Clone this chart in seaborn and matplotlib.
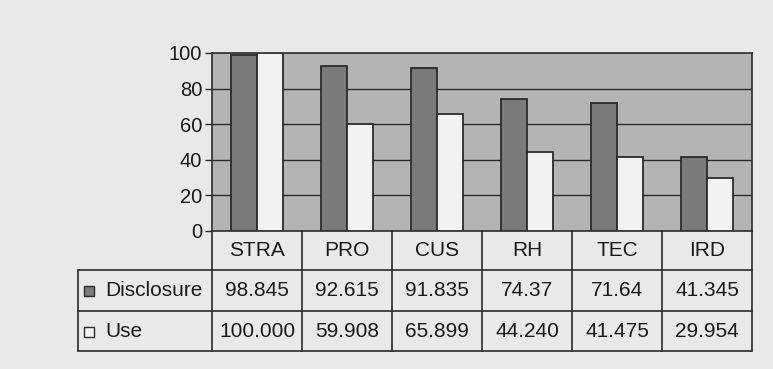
import numpy as np
import pandas as pd
import matplotlib
matplotlib.use("Agg")
import matplotlib.pyplot as plt
import seaborn as sns
from matplotlib.patches import Rectangle

categories = ["STRA", "PRO", "CUS", "RH", "TEC", "IRD"]
disclosure = [98.845, 92.615, 91.835, 74.37, 71.64, 41.345]
use = [100.000, 59.908, 65.899, 44.240, 41.475, 29.954]
disclosure_labels = ["98.845", "92.615", "91.835", "74.37", "71.64", "41.345"]
use_labels = ["100.000", "59.908", "65.899", "44.240", "41.475", "29.954"]
series = ["Disclosure", "Use"]
yticks = [0, 20, 40, 60, 80, 100]

sns.set_theme(style="white")
plt.rcParams["font.family"] = ["Liberation Sans", "DejaVu Sans"]

BG = "#e9e9e9"
PLOT_BG = "#b4b4b4"
DARK = "#7a7a7a"
LIGHT = "#f2f2f2"
LINE = "#2b2b2b"
TXT = "#1a1a1a"
FS = 15

df = pd.DataFrame({
    "cat": categories * 2,
    "val": disclosure + use,
    "series": [series[0]] * len(categories) + [series[1]] * len(categories),
})

W, H = 773, 369
fig = plt.figure(figsize=(W / 100, H / 100), dpi=100, facecolor=BG)

x0, x1 = 212, 752
ytop, ybot = 53, 231
ax = fig.add_axes([x0 / W, 1 - ybot / H, (x1 - x0) / W, (ybot - ytop) / H])
ax.set_facecolor(PLOT_BG)
sns.barplot(data=df, x="cat", y="val", hue="series", order=categories,
            hue_order=series, palette=[DARK, LIGHT], width=0.58,
            edgecolor=LINE, linewidth=1.3, ax=ax, legend=False, zorder=3)
ax.set_ylim(0, 100)
ax.set_xlim(-0.5, len(categories) - 0.5)
ax.set_yticks(yticks)
ax.set_yticklabels([str(t) for t in yticks], fontsize=14.5, color=TXT)
ax.set_xticks([])
ax.set_xlabel("")
ax.set_ylabel("")
for t in yticks[1:-1]:
    ax.axhline(t, color=LINE, lw=1.0, zorder=1)
for s in ax.spines.values():
    s.set_color(LINE)
    s.set_linewidth(1.2)
ax.tick_params(axis="y", left=True, length=5, width=1.0, color=LINE, pad=2)

# Data table
tx0 = 78
ybot_t = 351
colw = (x1 - x0) / len(categories)
label_w = (x0 - tx0) / colw
tax = fig.add_axes([tx0 / W, 1 - ybot_t / H, (x1 - tx0) / W, (ybot_t - ybot) / H])
left = -0.5 - label_w
right = len(categories) - 0.5
tax.set_xlim(left, right)
tax.set_ylim(0, 3)
tax.axis("off")
for yy in [0, 1.0, 2.02]:
    tax.plot([left, right], [yy, yy], color=LINE, lw=1.2, clip_on=False)
tax.plot([left, left], [0, 2.02], color=LINE, lw=1.2, clip_on=False)
for i in range(len(categories) + 1):
    tax.plot([i - 0.5, i - 0.5], [0, 3], color=LINE, lw=1.2, clip_on=False)

for i, c in enumerate(categories):
    tax.text(i, 2.5, c, ha="center", va="center", fontsize=FS, color=TXT)
    tax.text(i, 1.5, disclosure_labels[i], ha="center", va="center", fontsize=FS, color=TXT)
    tax.text(i, 0.48, use_labels[i], ha="center", va="center", fontsize=FS, color=TXT)

kx = left + 6 / colw
kw = 10 / colw
kh = 10 / 40
for yc, col, name in [(1.5, DARK, series[0]), (0.48, LIGHT, series[1])]:
    tax.add_patch(Rectangle((kx, yc - kh / 2), kw, kh, facecolor=col,
                            edgecolor=LINE, lw=1.0, clip_on=False))
    tax.text(left + 27 / colw, yc, name, ha="left", va="center", fontsize=FS, color=TXT)

fig.savefig("out.png", dpi=100, facecolor=BG)
